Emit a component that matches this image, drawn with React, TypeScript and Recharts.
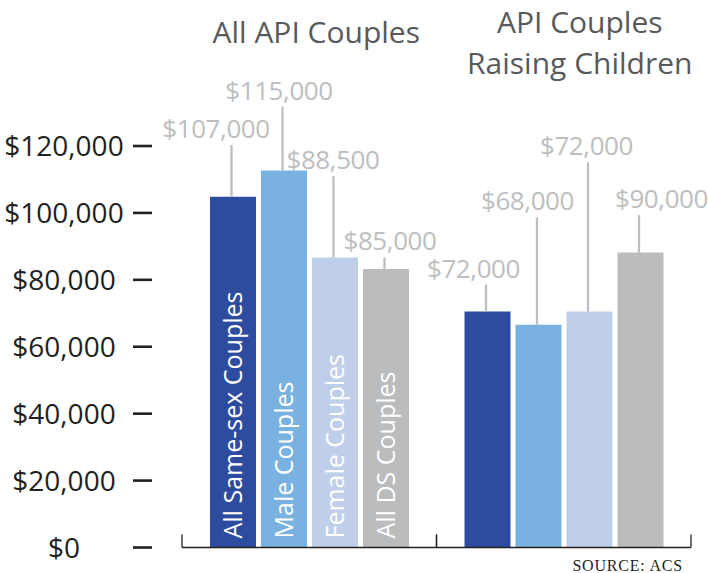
import { BarChart, Bar, XAxis, YAxis, LabelList } from "recharts";

const categories = ["All API Couples", "API Couples\nRaising Children"];

const seriesNames = ["All Same-sex Couples", "Male Couples", "Female Couples", "All DS Couples"];
const allSameSex = [107000, 72000];
const maleCouples = [115000, 68000];
const femaleCouples = [88500, 72000];
const allDsCouples = [85000, 90000];

const yTicks = [0, 20000, 40000, 60000, 80000, 100000, 120000];

// where each value label's leader line stops (in dollars) and how far the label is nudged sideways
const allSameSexLabelAt = [122800, 80200];
const maleLabelAt = [134500, 100700];
const femaleLabelAt = [113300, 117500];
const allDsLabelAt = [88500, 101400];
const labelNudge = [[-17, -14], [-5, -11], [-2, -3], [4, 21]];
const titleNudge = [7, 16];

const FONT = "'Open Sans', 'Noto Sans', sans-serif";
const INK = "#231F20";
const LABEL_GRAY = "#BCBEC0";

const data = categories.map((category, i) => ({
  category,
  allSameSex: allSameSex[i],
  male: maleCouples[i],
  female: femaleCouples[i],
  allDs: allDsCouples[i],
}));

const series = [
  { key: "allSameSex", name: seriesNames[0], color: "#2E4C9F", labelAt: allSameSexLabelAt, nudge: labelNudge[0] },
  { key: "male", name: seriesNames[1], color: "#79B2E0", labelAt: maleLabelAt, nudge: labelNudge[1] },
  { key: "female", name: seriesNames[2], color: "#BFCFE9", labelAt: femaleLabelAt, nudge: labelNudge[2] },
  { key: "allDs", name: seriesNames[3], color: "#BBBCBE", labelAt: allDsLabelAt, nudge: labelNudge[3] },
];

const money = (v: number) => `$${v.toLocaleString("en-US")}`;

function ValueTick({ x, y, payload }: any) {
  return (
    <g>
      <text x={x - 118} y={y} dy="0.36em" textAnchor="middle" fontSize={28} fontFamily={FONT} fill={INK}>
        {money(payload.value)}
      </text>
      <line x1={x - 49} x2={x - 30} y1={y} y2={y} stroke={INK} strokeWidth={2.6} />
    </g>
  );
}

function TitleTick({ x, index, payload }: any) {
  const lines = String(payload.value).split("\n");
  const cx = x + titleNudge[index];
  const firstBaseline = lines.length > 1 ? 33 : 43;
  return (
    <text x={cx} y={firstBaseline} textAnchor="middle" fontSize={30} fontFamily={FONT} fill="#58595B">
      {lines.map((line, k) => (
        <tspan key={k} x={cx} dy={k === 0 ? 0 : 40.7}>
          {line}
        </tspan>
      ))}
    </text>
  );
}

function BoundaryTick({ x, y, payload }: any) {
  const half = payload.offset ?? 0;
  return (
    <g stroke={INK} strokeWidth={1.3}>
      <line x1={x - half} x2={x - half} y1={y} y2={y - 13} />
      <line x1={x + half} x2={x + half} y1={y} y2={y - 13} />
    </g>
  );
}

function makeAnnotation(s: (typeof series)[number]) {
  return (props: any) => {
    const vb = props.viewBox || {};
    const x = Number(props.x ?? vb.x);
    const y = Number(props.y ?? vb.y);
    const w = Number(props.width ?? vb.width);
    const h = Number(props.height ?? vb.height);
    const value = Number(props.value);
    const i = Number(props.index);
    const bottom = y + h;
    const cx = x + w / 2;
    const anchorY = bottom - (s.labelAt[i] * h) / value;
    return (
      <g>
        <line x1={cx - 1.5} x2={cx - 1.5} y1={anchorY} y2={y} stroke={LABEL_GRAY} strokeWidth={2.3} />
        <text
          x={cx + s.nudge[i]}
          y={anchorY - 7}
          textAnchor="middle"
          fontSize={26}
          letterSpacing={-0.4}
          fontFamily={FONT}
          fill={LABEL_GRAY}
        >
          {money(value)}
        </text>
        {i === 0 && (
          <text
            transform={`translate(${cx + 8.9}, ${bottom - 9}) rotate(-90)`}
            fontSize={25}
            fontFamily={FONT}
            fill="#FFFFFF"
          >
            {s.name}
          </text>
        )}
      </g>
    );
  };
}

export default function App() {
  return (
    <div style={{ position: "absolute", left: 0, top: 0, width: 708, height: 573, background: "#fff" }}>
      <BarChart
        width={708}
        height={573}
        data={data}
        margin={{ top: 0, right: 17, bottom: 0, left: 0 }}
        barSize={46}
        barGap={5}
      >
        <XAxis
          xAxisId="top"
          orientation="top"
          dataKey="category"
          height={146}
          axisLine={false}
          tickLine={false}
          tickSize={0}
          tickMargin={0}
          interval={0}
          tick={(p: any) => <TitleTick {...p} />}
        />
        <XAxis
          xAxisId="bottom"
          dataKey="category"
          height={25.5}
          axisLine={{ stroke: INK, strokeWidth: 1.3 }}
          tickLine={false}
          tickSize={0}
          tickMargin={0}
          interval={0}
          tick={(p: any) => <BoundaryTick {...p} />}
        />
        <YAxis
          yAxisId="ticks"
          type="number"
          width={182}
          domain={[0, 120000]}
          ticks={yTicks}
          interval={0}
          allowDataOverflow
          axisLine={false}
          tickLine={false}
          tickSize={0}
          tickMargin={0}
          tick={(p: any) => <ValueTick {...p} />}
        />
        {/* the original draws its bars on a slightly shorter scale than the tick marks */}
        <YAxis
          yAxisId="bars"
          type="number"
          orientation="right"
          width={0}
          hide
          domain={[0, 122500]}
          allowDataOverflow
        />
        {series.map((s) => (
          <Bar
            key={s.key}
            dataKey={s.key}
            name={s.name}
            xAxisId="bottom"
            yAxisId="bars"
            fill={s.color}
            isAnimationActive={false}
          >
            <LabelList dataKey={s.key} content={makeAnnotation(s)} />
          </Bar>
        ))}
      </BarChart>
      <div
        style={{
          position: "absolute",
          right: 25,
          top: 557.6,
          fontFamily: "'Liberation Serif', serif",
          fontSize: 16,
          lineHeight: "16px",
          letterSpacing: 0.8,
          color: INK,
          whiteSpace: "nowrap",
        }}
      >
        SOURCE: ACS
      </div>
    </div>
  );
}
